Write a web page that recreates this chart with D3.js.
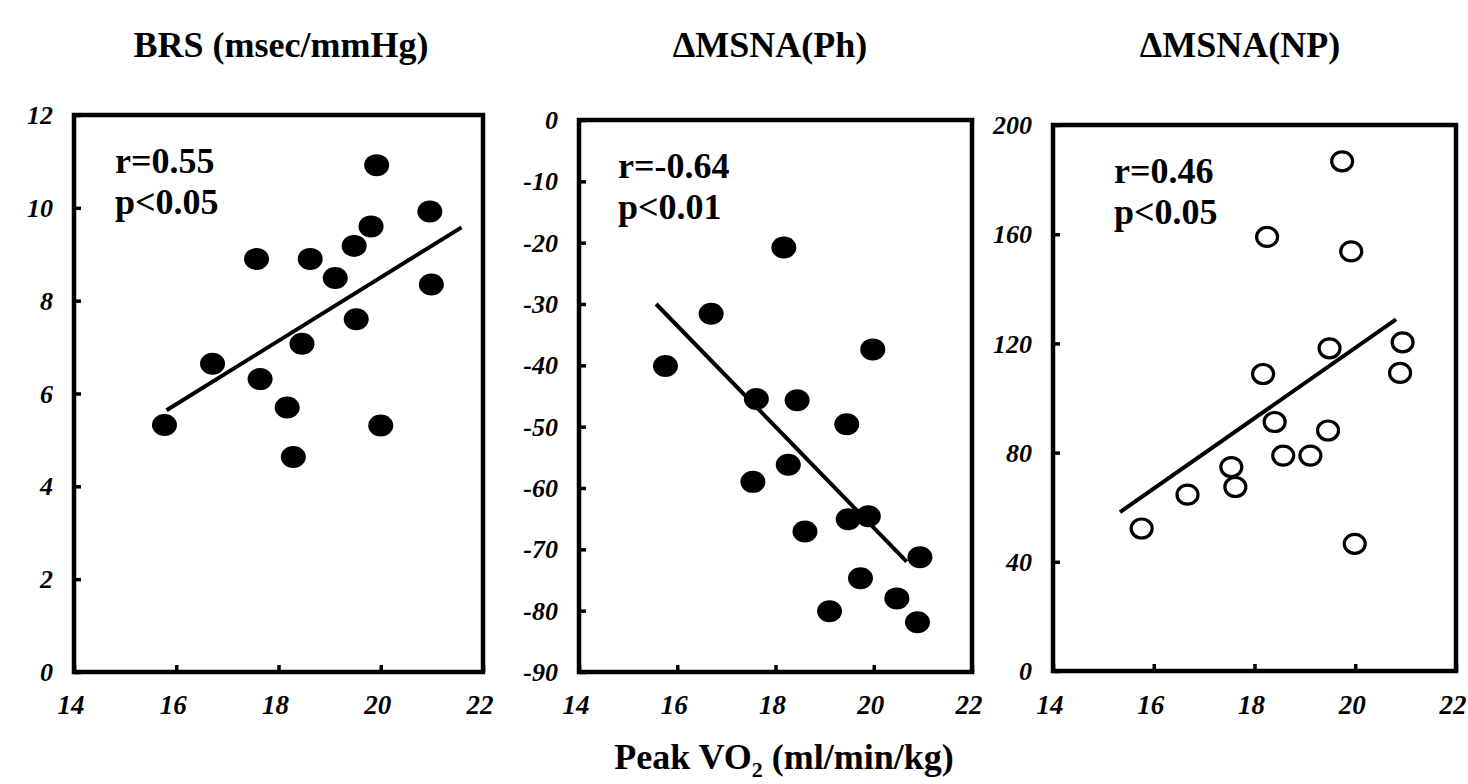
<!DOCTYPE html>
<html>
<head>
<meta charset="utf-8">
<script src="https://cdn.jsdelivr.net/npm/d3@7"></script>
<style>
  html, body { margin: 0; padding: 0; background: #fff; }
  svg { display: block; }
</style>
</head>
<body>
<svg id="chart" width="1468" height="784"></svg>
<script>
// ---- data ----
const titles = ["BRS (msec/mmHg)", "\u0394MSNA(Ph)", "\u0394MSNA(NP)"];
const xTicks = [14, 16, 18, 20, 22];
const yTicksBRS = [0, 2, 4, 6, 8, 10, 12];
const yTicksPh = [0, -10, -20, -30, -40, -50, -60, -70, -80, -90];
const yTicksNP = [0, 40, 80, 120, 160, 200];
const statR = ["r=0.55", "r=-0.64", "r=0.46"];
const statP = ["p<0.05", "p<0.01", "p<0.05"];

const brsX = [15.77, 16.71, 17.57, 17.64, 18.17, 18.29, 18.46, 18.62, 19.11, 19.48, 19.52, 19.81, 19.92, 20.0, 20.96, 20.99];
const brsY = [5.32, 6.64, 8.9, 6.31, 5.70, 4.63, 7.07, 8.9, 8.49, 9.18, 7.6, 9.6, 10.92, 5.31, 9.92, 8.35];

const phX = [15.76, 16.69, 18.17, 17.61, 18.44, 19.45, 19.98, 17.54, 18.26, 18.6, 19.48, 19.89, 20.94, 19.73, 19.1, 20.47, 20.89];
const phY = [-40.1, -31.6, -20.8, -45.5, -45.7, -49.6, -37.4, -59.0, -56.2, -67.1, -65.1, -64.6, -71.3, -74.7, -80.1, -78.0, -81.9];

const npX = [15.76, 16.67, 17.54, 17.62, 18.17, 18.25, 18.4, 18.57, 19.11, 19.46, 19.49, 19.74, 19.92, 19.99, 20.94, 20.89];
const npY = [52.2, 64.6, 74.7, 67.4, 108.8, 159.0, 91.2, 78.9, 78.9, 88.1, 118.2, 186.7, 153.7, 46.6, 120.4, 109.2];

const fitX = [[15.81, 21.58], [15.57, 20.67], [15.33, 20.81]];
const fitY = [[5.64, 9.58], [-30.0, -72.0], [58.2, 128.8]];

// ---- layout ----
const svg = d3.select("#chart");
const serif = "'Liberation Serif', 'Times New Roman', serif";

const panels = [
  { left: 74, right: 483, top: 115, bottom: 672, yDomain: [0, 12], yTicks: yTicksBRS, xs: brsX, ys: brsY, filled: true, titleX: 281, statX: 115 },
  { left: 579, right: 972, top: 120, bottom: 672, yDomain: [-90, 0], yTicks: yTicksPh, xs: phX, ys: phY, filled: true, titleX: 770, statX: 618 },
  { left: 1053, right: 1456, top: 125, bottom: 671, yDomain: [0, 200], yTicks: yTicksNP, xs: npX, ys: npY, filled: false, titleX: 1240, statX: 1114 }
];

panels.forEach((p, i) => {
  const x = d3.scaleLinear().domain([14, 22]).range([p.left, p.right]);
  const y = d3.scaleLinear().domain(p.yDomain).range([p.bottom, p.top]);
  const g = svg.append("g");

  // title
  svg.append("text")
    .attr("x", p.titleX).attr("y", 57)
    .attr("text-anchor", "middle")
    .attr("font-family", serif).attr("font-weight", "bold")
    .attr("font-size", 36)
    .text(titles[i]);

  // left axis (ticks inward)
  const yAxis = d3.axisRight(y).tickValues(p.yTicks).tickSize(7).tickFormat("");
  const ya = g.append("g").attr("transform", `translate(${p.left},0)`).call(yAxis);
  ya.select(".domain").remove();
  ya.selectAll("line").attr("stroke", "#000").attr("stroke-width", 3.5);

  // bottom axis (ticks inward)
  const xAxis = d3.axisTop(x).tickValues(xTicks).tickSize(7).tickFormat("");
  const xa = g.append("g").attr("transform", `translate(0,${p.bottom})`).call(xAxis);
  xa.select(".domain").remove();
  xa.selectAll("line").attr("stroke", "#000").attr("stroke-width", 3.5);

  // y tick labels
  g.selectAll(".ylab").data(p.yTicks).enter().append("text")
    .attr("x", p.left - 21).attr("y", d => y(d))
    .attr("dy", "0.35em")
    .attr("text-anchor", "end")
    .attr("font-family", serif).attr("font-weight", "bold").attr("font-style", "italic")
    .attr("font-size", 26)
    .text(d => d);

  // x tick labels
  g.selectAll(".xlab").data(xTicks).enter().append("text")
    .attr("x", d => x(d) - 3).attr("y", 714)
    .attr("text-anchor", "middle")
    .attr("font-family", serif).attr("font-weight", "bold").attr("font-style", "italic")
    .attr("font-size", 27)
    .text(d => d);

  // frame
  g.append("rect")
    .attr("x", p.left).attr("y", p.top)
    .attr("width", p.right - p.left).attr("height", p.bottom - p.top)
    .attr("fill", "none").attr("stroke", "#000").attr("stroke-width", 4.5);

  // stats
  const st = g.append("text")
    .attr("font-family", serif).attr("font-weight", "bold")
    .attr("font-size", 36);
  st.append("tspan").attr("x", p.statX).attr("y", p.top + 58).text(statR[i]);
  st.append("tspan").attr("x", p.statX).attr("y", p.top + 99).text(statP[i]);

  // regression line
  const line = d3.line().x(d => x(d[0])).y(d => y(d[1]));
  g.append("path")
    .datum(fitX[i].map((v, k) => [v, fitY[i][k]]))
    .attr("d", line)
    .attr("fill", "none").attr("stroke", "#000").attr("stroke-width", 4);

  // points
  const pts = p.xs.map((v, k) => [v, p.ys[k]]);
  g.selectAll(".pt").data(pts).enter().append("ellipse")
    .attr("cx", d => x(d[0])).attr("cy", d => y(d[1]))
    .attr("rx", p.filled ? 12.5 : 10.5)
    .attr("ry", p.filled ? 11 : 9.5)
    .attr("fill", p.filled ? "#000" : "#fff")
    .attr("stroke", "#000")
    .attr("stroke-width", p.filled ? 0 : 3.2);
});

// shared x axis title
const xt = svg.append("text")
  .attr("x", 784).attr("y", 769)
  .attr("text-anchor", "middle")
  .attr("font-family", serif).attr("font-weight", "bold")
  .attr("font-size", 36);
xt.append("tspan").text("Peak VO");
xt.append("tspan").attr("font-size", 22).attr("dy", 8).text("2");
xt.append("tspan").attr("dy", -8).text(" (ml/min/kg)");
</script>
</body>
</html>
